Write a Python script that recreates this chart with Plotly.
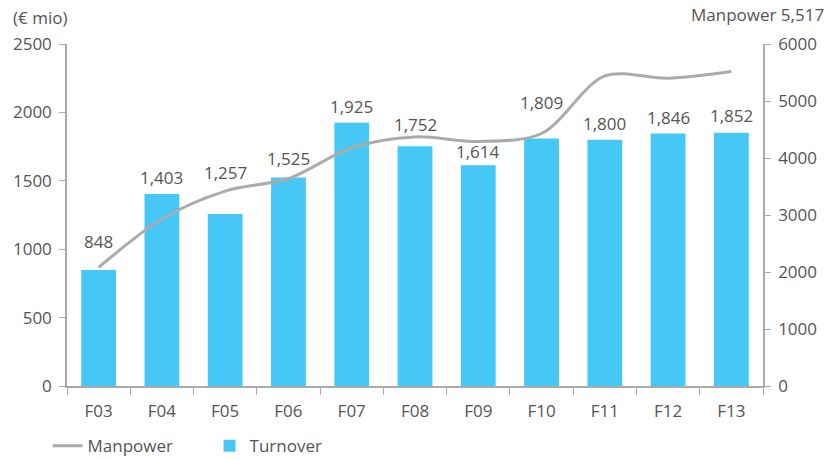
import plotly.graph_objects as go

categories = ["F03", "F04", "F05", "F06", "F07", "F08", "F09", "F10", "F11", "F12", "F13"]
turnover = [848, 1403, 1257, 1525, 1925, 1752, 1614, 1809, 1800, 1846, 1852]
manpower = [2080, 2930, 3420, 3640, 4180, 4370, 4290, 4430, 5440, 5400, 5517]
label_text = ["848", "1,403", "1,257", "1,525", "1,925", "1,752", "1,614", "1,809", "1,800", "1,846", "1,852"]
label_shift = [15, 3, 28, 5, 3, 8, 0, 23, 3, 2, 4]

FONT = "Open Sans"
TXT = "#555555"
AX = "#aaaaaa"
FS = 17

fig = go.Figure()
fig.add_trace(go.Scatter(
    x=categories, y=manpower, name="Manpower", yaxis="y2",
    mode="lines", line=dict(color="#ababab", width=3, shape="spline", smoothing=0.9),
))
fig.add_trace(go.Bar(
    x=categories, y=turnover, name="Turnover", marker=dict(color="#45C8F5", line=dict(width=0)),
))

for c, v, t, s in zip(categories, turnover, label_text, label_shift):
    fig.add_annotation(x=c, y=v, text=t, showarrow=False, yanchor="bottom",
                       yshift=s, font=dict(family=FONT, size=FS, color=TXT))

fig.add_annotation(xref="paper", yref="paper", x=-0.081, y=1.078, text="(€ mio)",
                   showarrow=False, xanchor="left", yanchor="middle",
                   font=dict(family=FONT, size=FS, color=TXT))
fig.add_annotation(xref="paper", yref="paper", x=1.09, y=1.087, text="Manpower 5,517",
                   showarrow=False, xanchor="right", yanchor="middle",
                   font=dict(family=FONT, size=FS, color=TXT))

fig.update_layout(
    width=832, height=460,
    margin=dict(l=67, r=69, t=44, b=74, autoexpand=False),
    paper_bgcolor="white", plot_bgcolor="white",
    bargap=0.45,
    font=dict(family=FONT, size=FS, color=TXT),
    xaxis=dict(type="category", tickson="boundaries", ticks="outside", ticklen=7,
               tickcolor=AX, showline=True, linecolor=AX, linewidth=1.5,
               showgrid=False, ticklabelstandoff=9, automargin=False,
               tickfont=dict(family=FONT, size=FS, color=TXT)),
    yaxis=dict(range=[0, 2500], tickvals=[0, 500, 1000, 1500, 2000, 2500],
               ticks="outside", ticklen=6, tickcolor=AX, showline=True, linecolor=AX,
               linewidth=1.5, showgrid=False, zeroline=False, ticklabelstandoff=4,
               automargin=False, tickfont=dict(family=FONT, size=FS, color=TXT)),
    yaxis2=dict(range=[0, 6000], tickvals=[0, 1000, 2000, 3000, 4000, 5000, 6000],
                overlaying="y", side="right", ticks="outside", ticklen=6, tickcolor=AX,
                showline=True, linecolor=AX, linewidth=1.5, showgrid=False,
                zeroline=False, ticklabelstandoff=4, automargin=False,
                tickfont=dict(family=FONT, size=FS, color=TXT)),
    showlegend=True,
    legend=dict(orientation="h", x=-0.028, xanchor="left", yref="container", y=0.03,
                yanchor="middle", traceorder="normal", entrywidth=117,
                entrywidthmode="pixels", itemwidth=30,
                font=dict(family=FONT, size=FS, color=TXT), bgcolor="rgba(0,0,0,0)"),
)

fig.write_html("out.html")
